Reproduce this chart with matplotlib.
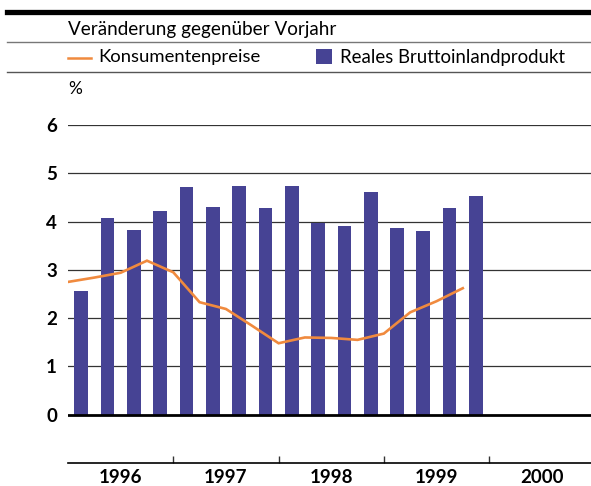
import matplotlib
matplotlib.use("Agg")
import matplotlib.pyplot as plt
from matplotlib.lines import Line2D
from matplotlib.patches import Rectangle

# quarterly data 1996-1999, change vs previous year in %
years = ["1996", "1997", "1998", "1999", "2000"]
bip = [2.57, 4.08, 3.83, 4.22, 4.72, 4.31, 4.74, 4.29,
       4.74, 3.98, 3.91, 4.62, 3.87, 3.81, 4.29, 4.53]
cpi = [2.75, 2.84, 2.94, 3.19, 2.95, 2.33, 2.19, 1.84,
       1.48, 1.60, 1.59, 1.55, 1.68, 2.12, 2.35, 2.62]
yticks = [0, 1, 2, 3, 4, 5, 6]

BLUE = "#464394"
ORANGE = "#F08A3E"
W, H = 591, 486

plt.rcParams["font.family"] = ["Lato", "DejaVu Sans"]

fig = plt.figure(figsize=(W / 100, H / 100), dpi=100)


def fx(px):
    return px / W


def fy(py):
    return 1 - py / H


###########################################################
# Header
###########################################################

fig.add_artist(Line2D([fx(7), 1], [fy(12.5), fy(12.5)], color="black", lw=3.8))
fig.add_artist(Line2D([fx(7), 1], [fy(42), fy(42)], color="#777777", lw=1.0))
fig.add_artist(Line2D([fx(7), 1], [fy(72), fy(72)], color="#555555", lw=1.0))

fig.text(fx(68), fy(29), "Veränderung gegenüber Vorjahr", fontsize=13.6,
         va="center", ha="left")

fig.add_artist(Line2D([fx(68), fx(91)], [fy(58), fy(58)], color=ORANGE, lw=1.8))
fig.text(fx(98), fy(57), "Konsumentenpreise", fontsize=13.3,
         va="center", ha="left")
fig.add_artist(Rectangle((fx(316), fy(64)), fx(16), 15 / H,
                         transform=fig.transFigure, color=BLUE, lw=0))
fig.text(fx(340), fy(57), "Reales Bruttoinlandprodukt", fontsize=13.4,
         va="center", ha="left")

fig.text(fx(68), fy(89), "%", fontsize=12.5, va="center", ha="left")

###########################################################
# Chart
###########################################################

ax = fig.add_axes([fx(68), fy(463), 1 - fx(68), (463 - 125) / H])

xb = [i + 0.5 for i in range(len(bip))]
xl = list(range(len(cpi)))

for t in yticks[1:]:
    ax.axhline(t, color="#333333", lw=0.9, zorder=1)

ax.bar(xb, bip, width=0.52, color=BLUE, zorder=2)
ax.plot(xl, cpi, color=ORANGE, lw=1.9, zorder=3, solid_joinstyle="miter")
ax.axhline(0, color="black", lw=2.0, zorder=4)

ax.set_xlim(0, 20 * (591 - 68) / (594.4 - 68))
ax.set_ylim(-1, 6)

for s in ["top", "right", "left"]:
    ax.spines[s].set_visible(False)
ax.spines["bottom"].set_linewidth(1.2)

ax.set_yticks(yticks)
ax.set_yticklabels([str(t) for t in yticks], fontsize=13.5, fontweight="bold")
ax.tick_params(axis="y", length=0, pad=8)

ax.set_xticks([2 + 4 * i for i in range(len(years))])
ax.set_xticklabels(years, fontsize=13.5, fontweight="bold")
ax.tick_params(axis="x", which="major", length=0, pad=4)
ax.set_xticks([4, 8, 12, 16], minor=True)
ax.tick_params(axis="x", which="minor", direction="in", length=5,
               width=1.0, color="#333333")

fig.savefig("out.png", dpi=100)
